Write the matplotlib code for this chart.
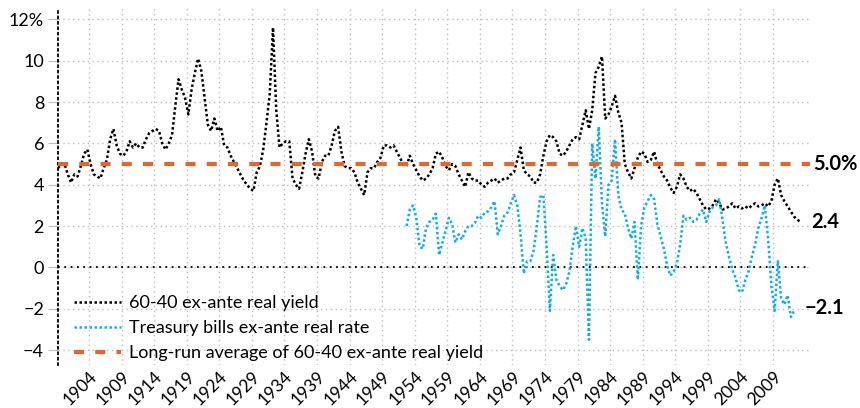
import numpy as np
import matplotlib
matplotlib.use("Agg")
import matplotlib.pyplot as plt

plt.rcParams['font.family'] = ['Lato', 'DejaVu Sans']

# 60-40 ex-ante real yield, half-yearly from 1899.25
black_start = 1899.25
black_vals = [
    4.8, 5.0, 5.0, 4.5, 4.1, 4.5, 4.4, 4.9, 5.5, 5.7,
    5.0, 4.5, 4.4, 4.3, 4.8, 5.2, 6.2, 6.7, 5.9, 5.5,
    5.4, 5.6, 6.1, 5.8, 6.0, 5.8, 5.8, 6.2, 6.5, 6.6,
    6.7, 6.6, 6.0, 5.7, 6.0, 6.4, 7.8, 9.1, 8.6, 8.2,
    7.4, 8.6, 9.4, 10.1, 9.5, 8.2, 6.9, 6.6, 7.2, 6.6,
    6.8, 5.9, 5.8, 5.4, 5.1, 4.8, 4.5, 4.2, 4.0, 3.8,
    3.7, 4.6, 4.9, 5.7, 7.0, 8.4, 11.6, 7.6, 5.8, 6.0,
    6.1, 6.1, 4.3, 4.0, 3.8, 4.6, 5.5, 6.2, 5.6, 4.4,
    4.3, 5.1, 5.4, 5.4, 5.9, 6.6, 6.8, 5.6, 4.9, 4.8,
    4.8, 4.6, 4.1, 3.8, 3.5, 4.6, 4.8, 4.8, 5.1, 5.3,
    5.9, 5.9, 5.8, 5.9, 5.6, 5.3, 5.0, 4.9, 5.4, 5.0,
    4.7, 4.4, 4.2, 4.3, 4.5, 4.8, 5.5, 5.6, 5.3, 4.9,
    4.7, 5.0, 4.9, 4.5, 4.2, 3.9, 4.6, 4.3, 4.2, 4.2,
    4.0, 3.9, 4.1, 4.2, 4.3, 4.1, 4.2, 4.3, 4.3, 4.5,
    4.6, 5.2, 5.8, 4.7, 4.5, 4.4, 4.1, 4.1, 4.5, 5.4,
    6.1, 6.4, 6.3, 6.1, 5.5, 5.4, 5.6, 5.9, 6.2, 6.3,
    6.2, 6.9, 7.6, 6.7, 7.6, 9.4, 9.7, 10.2, 7.2, 7.4,
    7.8, 8.3, 7.5, 7.0, 5.0, 4.6, 4.3, 4.8, 5.3, 5.6,
    5.5, 5.1, 5.2, 5.6, 5.0, 4.7, 4.4, 4.2, 3.85, 3.6,
    3.9, 4.5, 4.3, 3.9, 3.7, 3.8, 3.6, 3.3, 3.0, 2.8,
    2.85, 3.0, 3.3, 3.1, 2.8, 2.85, 2.95, 3.1, 2.85, 2.95,
    2.85, 2.95, 2.85, 3.0, 3.1, 2.95, 3.0, 3.1, 2.95, 3.2,
    4.0, 4.3, 3.5, 3.2, 2.95, 2.7, 2.45, 2.3, 2.2,
]

# Treasury bills ex-ante real rate, half-yearly from 1952.75
tbill_start = 1952.75
tbill_vals = [
    2.0, 2.8, 3.0, 2.4, 1.0, 0.9, 1.9, 2.2, 2.3, 2.6,
    0.6, 1.2, 1.8, 2.4, 2.1, 1.2, 1.6, 1.35, 1.75, 2.0,
    2.0, 2.15, 2.5, 2.4, 2.65, 2.7, 2.9, 3.2, 1.6, 2.0,
    2.5, 2.65, 3.1, 3.5, 3.0, 1.6, -0.3, 0.3, 0.3, 0.8,
    2.0, 3.4, 3.5, 1.0, -2.1, 0.6, -0.6, -0.9, -1.1, -0.8,
    -0.2, 1.0, 2.0, 1.0, 1.9, 1.4, -3.5, 6.0, 4.3, 6.8,
    3.1, 1.5, 4.0, 4.2, 6.2, 3.5, 2.8, 2.6, 1.9, 1.4,
    2.2, -0.6, 2.0, 2.9, 3.2, 3.5, 3.3, 2.1, 1.5, 0.9,
    0.1, -0.4, -0.2, 0.2, 1.1, 2.5, 2.3, 2.4, 2.2, 2.3,
    2.6, 2.8, 2.2, 2.7, 2.9, 3.0, 3.3, 2.3, 1.2, 0.5,
    -0.1, -0.5, -1.1, -1.2, -0.6, -0.2, 0.5, 1.1, 1.9, 2.4,
    3.0, 1.4, -0.9, -2.1, 0.3, -1.5, -1.8, -1.35, -2.4, -2.1,
]

long_run_avg = 5.0
end_labels = ["5.0%", "2.4", "\u22122.1"]
end_label_y = [5.0, 2.2, -1.95]

tick_years = list(range(1904, 2010, 5))
y_ticks = [-4, -2, 0, 2, 4, 6, 8, 10, 12]
y_ticklabels = ["\u22124", "\u22122", "0", "2", "4", "6", "8", "10", "12%"]

black_years = black_start + 0.5 * np.arange(len(black_vals))
tbill_years = tbill_start + 0.5 * np.arange(len(tbill_vals))

ORANGE = '#E8652A'
BLUE = '#12AEEB'
GRID = '#BDBDBD'

fig = plt.figure(figsize=(8.6, 4.08), dpi=100)
ax = fig.add_axes([0.0674, 0.105, 0.8746, 0.875])

ax.set_xlim(1899.24, 2014.7)
ax.set_ylim(-4.73, 12.54)

ax.grid(True, color=GRID, linestyle=(0, (1, 2.5)), linewidth=1.0)
ax.set_axisbelow(True)

ax.axhline(0, color='black', linestyle=(0, (1, 2.5)), linewidth=1.3, zorder=2)

ax.plot(black_years, black_vals, color='black', linestyle=(0, (1, 1)),
        linewidth=1.8, label='60-40 ex-ante real yield', zorder=3)
ax.plot(tbill_years, tbill_vals, color=BLUE, linestyle=(0, (1, 1)),
        linewidth=1.8, label='Treasury bills ex-ante real rate', zorder=3)
ax.axhline(long_run_avg, color=ORANGE, linestyle=(0, (2.4, 2.7)), linewidth=3,
           label='Long-run average of 60-40 ex-ante real yield', zorder=4)

for txt, yv, xv in zip(end_labels, end_label_y, [2015.2, 2014.9, 2013.9]):
    ax.text(xv, yv, txt, fontsize=14.5, fontweight='bold', va='center',
            ha='left', clip_on=False)

for s in ('top', 'right', 'bottom'):
    ax.spines[s].set_visible(False)
ax.spines['left'].set_linestyle((0, (1, 2)))
ax.spines['left'].set_linewidth(1.3)

ax.set_yticks(y_ticks)
ax.set_yticklabels(y_ticklabels, fontsize=13)
ax.set_xticks(tick_years)
ax.set_xticklabels([str(y) for y in tick_years], fontsize=12.5, rotation=45,
                   ha='right', rotation_mode='anchor')
ax.tick_params(axis='y', length=7, color=GRID, pad=3)
ax.tick_params(axis='x', length=0, pad=2)

leg = ax.legend(loc='lower left', bbox_to_anchor=(0.021, 0.012), frameon=False,
                fontsize=13, handlelength=2.6, handletextpad=0.45,
                labelspacing=0.5, borderaxespad=0, borderpad=0)

fig.savefig('out.png', dpi=100)
